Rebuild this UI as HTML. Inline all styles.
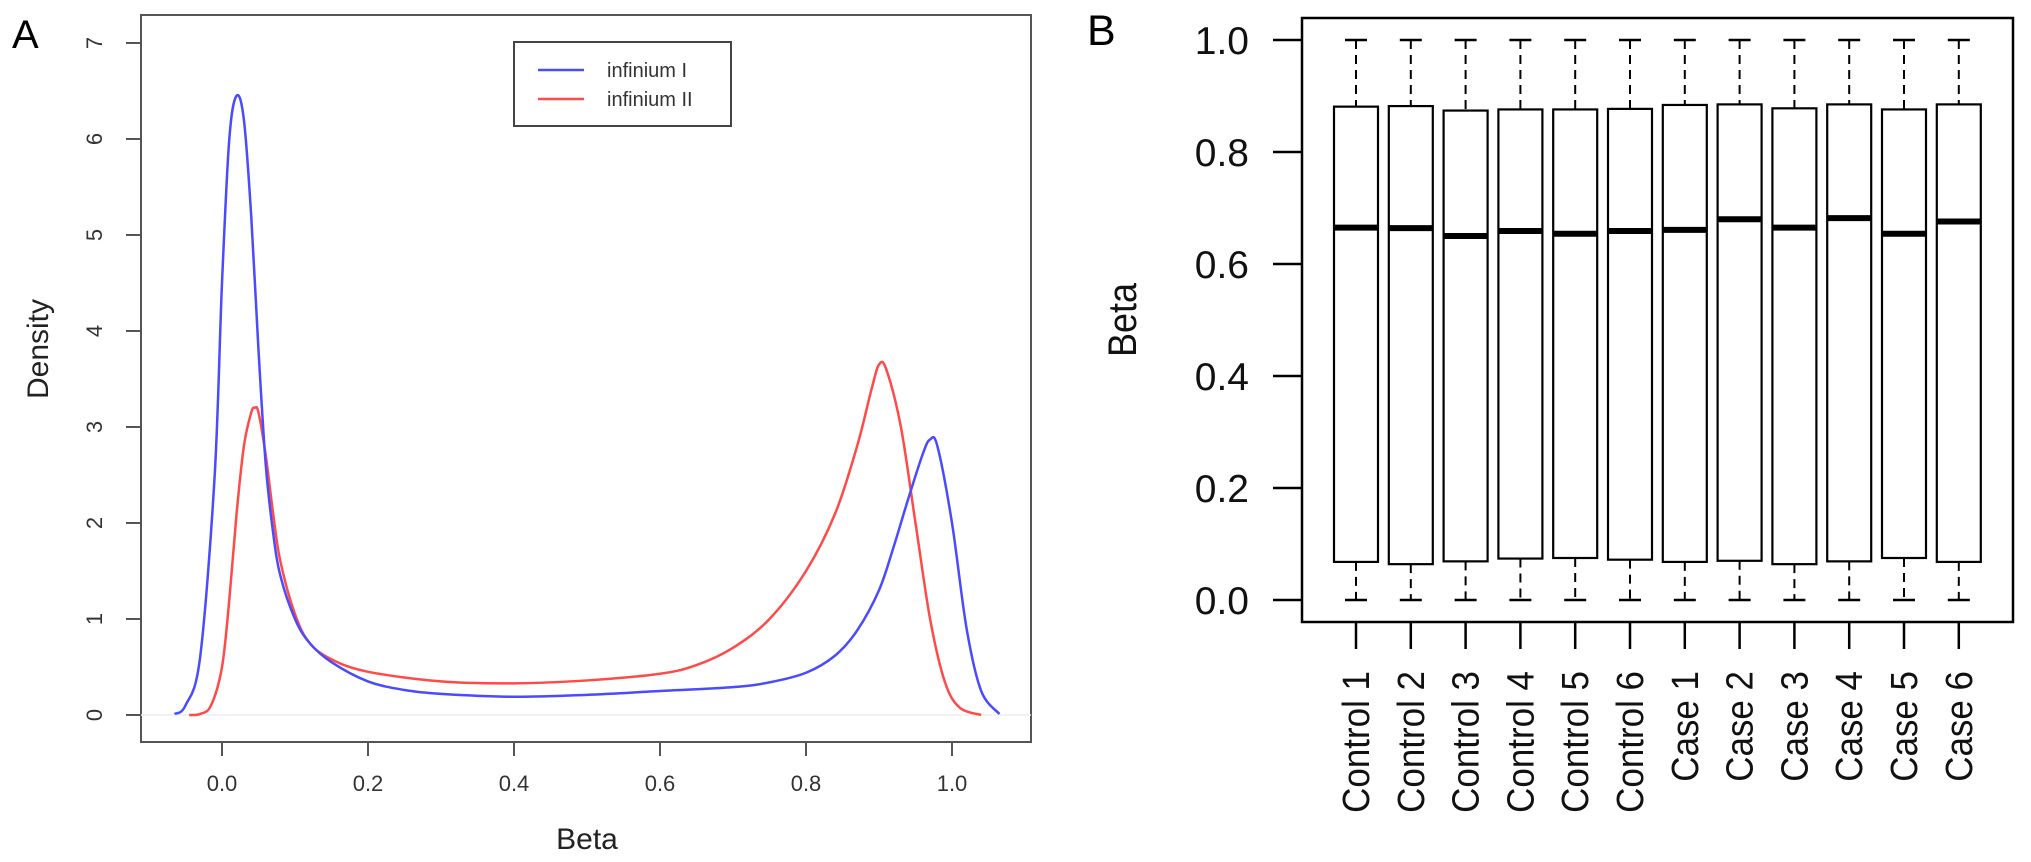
<!DOCTYPE html>
<html><head><meta charset="utf-8"><style>
body{margin:0;background:#fff;}
svg{display:block;font-family:"Liberation Sans",sans-serif;}
</style></head><body>
<svg id="svg" width="2031" height="862" viewBox="0 0 2031 862" xmlns="http://www.w3.org/2000/svg">
<text x="12" y="48" font-size="40">A</text>
<text x="1087" y="45" font-size="43">B</text>
<g id="pa"></g>
<g id="pb"></g>
</svg>
<script>
// Panel A data
const aXTicks=[0.0,0.2,0.4,0.6,0.8,1.0];
const aXTickLabels=["0.0","0.2","0.4","0.6","0.8","1.0"];
const aYTicks=[0,1,2,3,4,5,6,7];
const blueX=[-0.065,-0.05,-0.03,-0.01,0.0,0.01,0.02,0.03,0.04,0.05,0.06,0.07,0.08,0.1,0.12,0.15,0.2,0.25,0.3,0.4,0.5,0.6,0.7,0.75,0.8,0.84,0.87,0.9,0.92,0.94,0.96,0.97,0.98,1.0,1.02,1.04,1.065];
const blueY=[0.01,0.1,0.6,2.5,4.5,6.0,6.45,6.2,5.2,3.8,2.6,1.9,1.45,1.0,0.75,0.55,0.35,0.26,0.22,0.19,0.21,0.25,0.29,0.34,0.44,0.62,0.88,1.3,1.75,2.25,2.72,2.87,2.8,2.0,0.9,0.25,0.01];
const redX=[-0.045,-0.03,-0.015,0.0,0.01,0.02,0.03,0.04,0.045,0.05,0.06,0.07,0.08,0.1,0.12,0.15,0.2,0.3,0.4,0.5,0.6,0.65,0.7,0.75,0.8,0.84,0.87,0.89,0.9,0.91,0.93,0.95,0.97,0.99,1.01,1.04];
const redY=[0,0.01,0.1,0.5,1.2,2.1,2.8,3.15,3.2,3.15,2.7,2.1,1.6,1.05,0.75,0.58,0.45,0.35,0.33,0.36,0.43,0.52,0.7,1.0,1.5,2.1,2.8,3.4,3.65,3.6,3.0,2.0,1.0,0.35,0.08,0.0];
// Panel B data
const categories=["Control 1","Control 2","Control 3","Control 4","Control 5","Control 6","Case 1","Case 2","Case 3","Case 4","Case 5","Case 6"];
const whiskerHigh=[1,1,1,1,1,1,1,1,1,1,1,1];
const q3=[0.881,0.882,0.874,0.876,0.876,0.877,0.884,0.885,0.878,0.885,0.876,0.885];
const medians=[0.665,0.664,0.650,0.659,0.654,0.659,0.661,0.680,0.665,0.682,0.654,0.676];
const q1=[0.068,0.064,0.069,0.074,0.075,0.072,0.068,0.070,0.064,0.069,0.075,0.068];
const whiskerLow=[0,0,0,0,0,0,0,0,0,0,0,0];
const bYTicks=[0,0.2,0.4,0.6,0.8,1.0];
const bYTickLabels=["0.0","0.2","0.4","0.6","0.8","1.0"];

const NS="http://www.w3.org/2000/svg";
function mk(p,t,a){const e=document.createElementNS(NS,t);for(const k in a)e.setAttribute(k,a[k]);p.appendChild(e);return e;}
const pa=document.getElementById('pa'), pb=document.getElementById('pb');

// ---- Panel A
const ax=v=>222+(v-0)*730;
const ay=v=>715-v*96;
let e=mk(pa,'rect',{x:141,y:15,width:890,height:727,fill:'none',stroke:'#555','stroke-width':2});


e=mk(pa,'line',{x1:141,x2:1031,y1:ay(0),y2:ay(0),stroke:'#eee','stroke-width':1.5});


aXTicks.forEach((v,i)=>{
 let t=mk(pa,'line',{x1:ax(v),x2:ax(v),y1:742,y2:756,stroke:'#555','stroke-width':2});
 
 
 let l=mk(pa,'text',{x:ax(v),y:791,'font-size':22,'text-anchor':'middle',fill:'#333'});
 l.textContent=aXTickLabels[i];
 
 
});
aYTicks.forEach(v=>{
 let t=mk(pa,'line',{x1:126,x2:141,y1:ay(v),y2:ay(v),stroke:'#555','stroke-width':2});
 
 
 let l=mk(pa,'text',{x:0,y:0,'font-size':22,'text-anchor':'middle',fill:'#333',transform:`translate(102,${ay(v)}) rotate(-90)`});
 l.textContent=String(v);
 
 
});
e=mk(pa,'text',{x:0,y:0,'font-size':30,'text-anchor':'middle',fill:'#222',transform:'translate(48,349) rotate(-90)'});
e.textContent='Density';


e=mk(pa,'text',{x:587,y:849,'font-size':30,'text-anchor':'middle',fill:'#222'});
e.textContent='Beta';


function smooth(xs,ys){
 const P=xs.map((x,i)=>[ax(x),ay(ys[i])]);
 let d=`M${P[0][0]},${P[0][1]}`;
 for(let i=0;i<P.length-1;i++){
  const p0=P[Math.max(0,i-1)],p1=P[i],p2=P[i+1],p3=P[Math.min(P.length-1,i+2)];
  const c1=[p1[0]+(p2[0]-p0[0])/6,p1[1]+(p2[1]-p0[1])/6];
  const c2=[p2[0]-(p3[0]-p1[0])/6,p2[1]-(p3[1]-p1[1])/6];
  d+=`C${c1[0]},${c1[1]} ${c2[0]},${c2[1]} ${p2[0]},${p2[1]}`;
 }
 return d;
}
e=mk(pa,'path',{d:smooth(redX,redY),fill:'none',stroke:'#ff4a4a','stroke-width':2.5});


e=mk(pa,'path',{d:smooth(blueX,blueY),fill:'none',stroke:'#4a4aff','stroke-width':2.5});


const lg=mk(pa,'g',{});


mk(lg,'rect',{x:514,y:42,width:217,height:84,fill:'#fff',stroke:'#444','stroke-width':2});
[['infinium I','#4a4aff',70],['infinium II','#ff4a4a',99]].forEach(([n,c,y])=>{
 const g=mk(lg,'g',{});
 
 
 mk(g,'line',{x1:538,x2:584,y1:y,y2:y,stroke:c,'stroke-width':2.5});
 const t=mk(g,'text',{x:607,y:y+7,'font-size':20,fill:'#333'});t.textContent=n;
});

// ---- Panel B
const by=v=>600-v*560;
const bx=i=>1356+i*54.8;
e=mk(pb,'rect',{x:1302,y:18,width:711,height:604,fill:'none',stroke:'#000','stroke-width':2.5});


bYTicks.forEach((v,i)=>{
 let t=mk(pb,'line',{x1:1273,x2:1302,y1:by(v),y2:by(v),stroke:'#000','stroke-width':2.5});
 
 
 let l=mk(pb,'text',{x:0,y:0,'font-size':39,'text-anchor':'end',fill:'#111',transform:`translate(1249,${by(v)+14})`});
 l.textContent=bYTickLabels[i];
 
 
});
e=mk(pb,'text',{x:0,y:0,'font-size':40,'text-anchor':'middle',fill:'#111',transform:'translate(1136,320) rotate(-90) scale(0.9,1)'});
e.textContent='Beta';


categories.forEach((c,i)=>{
 const x=bx(i);
 const g=mk(pb,'g',{});
 
 
 mk(g,'line',{x1:x,x2:x,y1:by(whiskerHigh[i]),y2:by(q3[i]),stroke:'#000','stroke-width':2,'stroke-dasharray':'9,6'});
 mk(g,'line',{x1:x,x2:x,y1:by(q1[i]),y2:by(whiskerLow[i]),stroke:'#000','stroke-width':2,'stroke-dasharray':'9,6'});
 mk(g,'line',{x1:x-11,x2:x+11,y1:by(whiskerHigh[i]),y2:by(whiskerHigh[i]),stroke:'#000','stroke-width':2.5});
 mk(g,'line',{x1:x-11,x2:x+11,y1:by(whiskerLow[i]),y2:by(whiskerLow[i]),stroke:'#000','stroke-width':2.5});
 mk(g,'rect',{x:x-22,y:by(q3[i]),width:44,height:by(q1[i])-by(q3[i]),fill:'#fff',stroke:'#000','stroke-width':2.2});
 mk(g,'line',{x1:x-22,x2:x+22,y1:by(medians[i]),y2:by(medians[i]),stroke:'#000','stroke-width':6});
 let t=mk(pb,'line',{x1:x,x2:x,y1:622,y2:649,stroke:'#000','stroke-width':2.5});
 
 
 let l=mk(pb,'text',{x:0,y:0,'font-size':38,'text-anchor':'end',fill:'#111',transform:`translate(${x+13},671) rotate(-90) scale(0.92,1)`});
 l.textContent=c;
 
 
});
</script>
</body></html>
